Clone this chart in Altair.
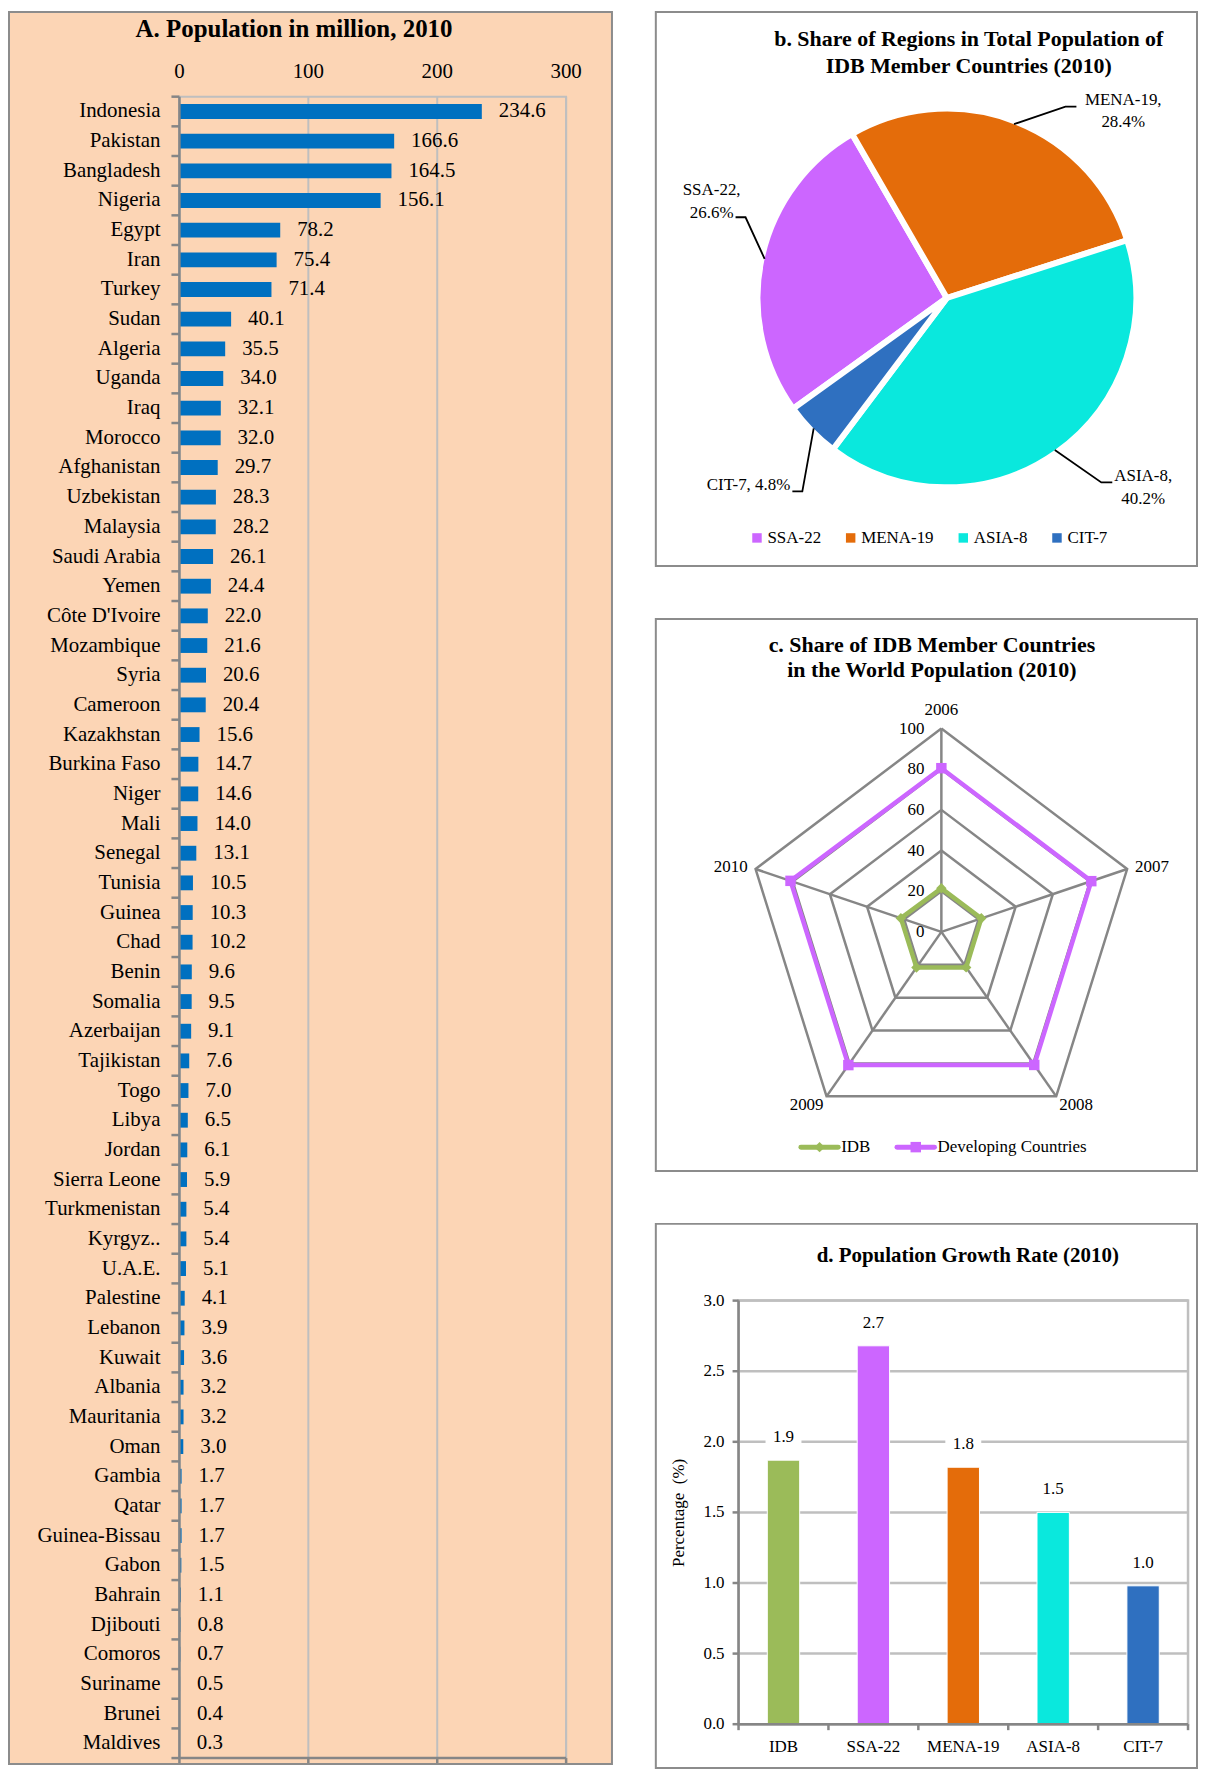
import math
import altair as alt
import pandas as pd

FONT = "Liberation Serif"
GRID = "#BFBFBF"
AXIS = "#868686"
FRAME = "#8C8C8C"

# ---------------- data ----------------
countries = ["Indonesia", "Pakistan", "Bangladesh", "Nigeria", "Egypt", "Iran", "Turkey", "Sudan",
             "Algeria", "Uganda", "Iraq", "Morocco", "Afghanistan", "Uzbekistan", "Malaysia",
             "Saudi Arabia", "Yemen", "Côte D'Ivoire", "Mozambique", "Syria", "Cameroon",
             "Kazakhstan", "Burkina Faso", "Niger", "Mali", "Senegal", "Tunisia", "Guinea", "Chad",
             "Benin", "Somalia", "Azerbaijan", "Tajikistan", "Togo", "Libya", "Jordan",
             "Sierra Leone", "Turkmenistan", "Kyrgyz..", "U.A.E.", "Palestine", "Lebanon", "Kuwait",
             "Albania", "Mauritania", "Oman", "Gambia", "Qatar", "Guinea-Bissau", "Gabon", "Bahrain",
             "Djibouti", "Comoros", "Suriname", "Brunei", "Maldives"]
population = [234.6, 166.6, 164.5, 156.1, 78.2, 75.4, 71.4, 40.1, 35.5, 34.0, 32.1, 32.0, 29.7,
              28.3, 28.2, 26.1, 24.4, 22.0, 21.6, 20.6, 20.4, 15.6, 14.7, 14.6, 14.0, 13.1, 10.5,
              10.3, 10.2, 9.6, 9.5, 9.1, 7.6, 7.0, 6.5, 6.1, 5.9, 5.4, 5.4, 5.1, 4.1, 3.9, 3.6, 3.2,
              3.2, 3.0, 1.7, 1.7, 1.7, 1.5, 1.1, 0.8, 0.7, 0.5, 0.4, 0.3]
pop_ticks = [0, 100, 200, 300]

regions = ["SSA-22", "MENA-19", "ASIA-8", "CIT-7"]
region_share = [26.6, 28.4, 40.2, 4.8]
region_colors = ["#CC66FF", "#E46C0A", "#0AE8DD", "#2F70C0"]
pie_sequence = ["MENA-19", "ASIA-8", "CIT-7", "SSA-22"]

years = ["2006", "2007", "2008", "2009", "2010"]
series_names = ["IDB", "Developing Countries"]
idb_world_share = [21.4, 21.5, 21.6, 21.7, 21.8]
developing_world_share = [80.5, 80.7, 80.9, 81.0, 81.2]
radar_levels = [0, 20, 40, 60, 80, 100]
series_colors = ["#9BBB59", "#CC66FF"]

growth_groups = ["IDB", "SSA-22", "MENA-19", "ASIA-8", "CIT-7"]
growth_rate = [1.87, 2.68, 1.82, 1.50, 0.98]
growth_colors = ["#9BBB59", "#CC66FF", "#E46C0A", "#0AE8DD", "#2F70C0"]
growth_ticks = [0.0, 0.5, 1.0, 1.5, 2.0, 2.5, 3.0]


def label(text, x, y, size, bold=False, align="center", baseline="middle", angle=None,
          line_height=None, color="black"):
    """Single text; for multi-line text, y is the first line's position."""
    props = dict(font=FONT, fontSize=size, align=align, baseline=baseline, color=color,
                 lineBreak="\n")
    if bold:
        props["fontWeight"] = "bold"
    if angle is not None:
        props["angle"] = angle
    if line_height:
        props["lineHeight"] = line_height
    return alt.Chart(pd.DataFrame({"t": [text]})).mark_text(**props).encode(
        text="t:N", x=alt.value(x), y=alt.value(y))


# ---------------- Panel A ----------------
A_W, A_H = 605, 1758
AX = [171, 559]
AY = [85, 1752]
dfA = pd.DataFrame({"country": countries, "pop": population})
dfTickA = pd.DataFrame({"t": pop_ticks})
dfFrameA = pd.DataFrame({"lo": [pop_ticks[0]], "hi": [pop_ticks[-1]]})
dfBoundA = pd.DataFrame({"k": list(range(len(countries) + 1))})

xA = alt.Scale(domain=[pop_ticks[0], pop_ticks[-1]], range=AX)
yA = alt.Scale(domain=countries, range=AY, paddingInner=0.5, paddingOuter=0.25)
YA = alt.Y("country:N", scale=yA, axis=None, sort=None)

a_frame = alt.Chart(dfFrameA).mark_rect(fillOpacity=0, stroke=GRID, strokeWidth=2).encode(
    x=alt.X("lo:Q", scale=xA, axis=None), x2="hi:Q", y=alt.value(AY[0]), y2=alt.value(AY[1]))
a_grid = alt.Chart(dfTickA).mark_rule(color=GRID, strokeWidth=2).encode(
    x=alt.X("t:Q", scale=xA, axis=None), y=alt.value(AY[0]), y2=alt.value(AY[1]))
a_bars = alt.Chart(dfA).mark_bar(color="#0070C0").encode(
    x=alt.X("pop:Q", scale=xA, axis=None), y=YA)
a_left = alt.Chart(dfFrameA).mark_rule(color=AXIS, strokeWidth=2.5).encode(
    x=alt.X("lo:Q", scale=xA, axis=None), y=alt.value(AY[0]), y2=alt.value(AY[1]))
a_bottom = alt.Chart(dfFrameA).mark_rule(color=AXIS, strokeWidth=2.5).encode(
    x=alt.X("lo:Q", scale=xA, axis=None), x2="hi:Q", y=alt.value(AY[1]))
a_bticks = alt.Chart(dfTickA).mark_rule(color=AXIS, strokeWidth=2.5).encode(
    x=alt.X("t:Q", scale=xA, axis=None), y=alt.value(AY[1]), y2=alt.value(AY[1] + 5))
a_lticks = alt.Chart(dfBoundA).mark_rule(color=AXIS, strokeWidth=2.5).encode(
    y=alt.Y("k:Q", scale=alt.Scale(domain=[0, len(countries)], range=AY), axis=None),
    x=alt.value(AX[0] - 8), x2=alt.value(AX[0]))
a_names = alt.Chart(dfA).mark_text(font=FONT, fontSize=21, align="right", baseline="middle",
                                   color="black").encode(
    x=alt.value(152), y=YA, text="country:N")
a_vals = alt.Chart(dfA).mark_text(font=FONT, fontSize=21, align="left", baseline="middle",
                                  dx=17, color="black").encode(
    x=alt.X("pop:Q", scale=xA, axis=None), y=YA, text=alt.Text("pop:Q", format=".1f"))
a_tlabels = alt.Chart(dfTickA).mark_text(font=FONT, fontSize=21, align="center",
                                         baseline="middle", color="black").encode(
    x=alt.X("t:Q", scale=xA, axis=None), y=alt.value(60), text=alt.Text("t:Q", format="d"))
a_title = label("A. Population in million, 2010", 286, 17, 25, bold=True)

panelA = alt.layer(a_frame, a_grid, a_bars, a_left, a_bottom, a_bticks, a_lticks, a_names,
                   a_vals, a_tlabels, a_title).resolve_scale(y="independent").properties(
    width=A_W, height=A_H,
    view=alt.ViewBackground(fill="#FCD5B5", stroke=FRAME, strokeWidth=2))

# ---------------- Panel B (pie) ----------------
B_W, B_H = 543, 556
PIE_CX, PIE_CY, PIE_R = 292, 287, 190
START_DEG = 330
dfB = pd.DataFrame({"region": regions, "share": region_share,
                    "seq": [pie_sequence.index(r) for r in regions]})
start = math.radians(START_DEG)
b_pie = alt.Chart(dfB).mark_arc(outerRadius=PIE_R, stroke="white", strokeWidth=6).encode(
    theta=alt.Theta("share:Q", stack=True, scale=alt.Scale(range=[start, start + 2 * math.pi])),
    color=alt.Color("region:N", scale=alt.Scale(domain=regions, range=region_colors),
                    legend=alt.Legend(orient="none", legendX=93, legendY=519,
                                      direction="horizontal", title=None, symbolType="square",
                                      symbolSize=90, symbolStrokeWidth=0, labelFont=FONT,
                                      labelFontSize=17, labelColor="black", columnPadding=21,
                                      labelOffset=2)),
    order=alt.Order("seq:Q"),
    x=alt.value(PIE_CX), y=alt.value(PIE_CY))

share_of = dict(zip(regions, region_share))
pie_label_layout = {
    "MENA-19": dict(x=469, y=88, align="center", two=True, lead=[(422, 95), (411, 95)]),
    "SSA-22": dict(x=56, y=179, align="center", two=True, lead=[(80, 206), (90, 206)]),
    "CIT-7": dict(x=135, y=475, align="right", two=False, lead=[(137, 481), (147, 481)]),
    "ASIA-8": dict(x=489, y=466, align="center", two=True, lead=[(458, 472), (447, 472)]),
}
lead_rows = []
cum = 0.0
total = sum(region_share)
for r in pie_sequence:
    s = share_of[r]
    mid = math.radians(START_DEG + (cum + s / 2) / total * 360)
    cum += s
    pts = pie_label_layout[r]["lead"] + [(PIE_CX + (PIE_R - 3) * math.sin(mid),
                                          PIE_CY - (PIE_R - 3) * math.cos(mid))]
    for k, (px, py) in enumerate(pts):
        lead_rows.append({"region": r, "step": k, "px": px, "py": py})
b_leads = alt.Chart(pd.DataFrame(lead_rows)).mark_line(color="black", strokeWidth=1.8).encode(
    x=alt.X("px:Q", scale=None), y=alt.Y("py:Q", scale=None), detail="region:N",
    order="step:Q")
b_labels = []
for r in regions:
    lay = pie_label_layout[r]
    sep = ",\n" if lay["two"] else ", "
    b_labels.append(label(f"{r}{sep}{share_of[r]:.1f}%", lay["x"], lay["y"], 17,
                          align=lay["align"], line_height=22.5))
b_title = label("b. Share of Regions in Total Population of\nIDB Member Countries (2010)",
                314, 27, 22, bold=True, line_height=27)
panelB = alt.layer(b_pie, b_leads, *b_labels, b_title).properties(
    width=B_W, height=B_H, view=alt.ViewBackground(fill="white", stroke=FRAME, strokeWidth=2))

# ---------------- Panel C (radar) ----------------
C_W, C_H = 543, 554
RCX, RCY, RRX, RRY = 286.5, 314, 196, 204
n = len(years)
xC = alt.Scale(domain=[-100, 100], range=[RCX - RRX, RCX + RRX])
yC = alt.Scale(domain=[-100, 100], range=[RCY + RRY, RCY - RRY])

grid_rows = [{"level": L, "i": i} for L in radar_levels[1:] for i in range(n + 1)]
c_grid = alt.Chart(pd.DataFrame(grid_rows)).transform_calculate(
    gx=f"datum.level * sin(2 * PI * datum.i / {n})",
    gy=f"datum.level * cos(2 * PI * datum.i / {n})").mark_line(
    color=AXIS, strokeWidth=2.5).encode(
    x=alt.X("gx:Q", scale=xC, axis=None), y=alt.Y("gy:Q", scale=yC, axis=None),
    detail="level:N", order="i:Q")

dfYears = pd.DataFrame({"year": years, "i": list(range(n)), "top": [radar_levels[-1]] * n})
spoke_base = alt.Chart(dfYears).transform_calculate(
    sx=f"datum.top * sin(2 * PI * datum.i / {n})",
    sy=f"datum.top * cos(2 * PI * datum.i / {n})", z="0")
c_spokes = spoke_base.mark_rule(color=AXIS, strokeWidth=2.5).encode(
    x=alt.X("z:Q", scale=xC, axis=None), y=alt.Y("z:Q", scale=yC, axis=None),
    x2="sx:Q", y2="sy:Q")

ser_rows = []
for name, vals in zip(series_names, [idb_world_share, developing_world_share]):
    for i in range(n + 1):
        ser_rows.append({"series": name, "i": i, "v": vals[i % n]})
ser_base = alt.Chart(pd.DataFrame(ser_rows)).transform_calculate(
    px=f"datum.v * sin(2 * PI * datum.i / {n})",
    py=f"datum.v * cos(2 * PI * datum.i / {n})")
ser_color = alt.Color("series:N", scale=alt.Scale(domain=series_names, range=series_colors),
                      legend=None)
c_lines = ser_base.mark_line(strokeWidth=4.5).encode(
    x=alt.X("px:Q", scale=xC, axis=None), y=alt.Y("py:Q", scale=yC, axis=None),
    color=ser_color, detail="series:N", order="i:Q")
c_points = ser_base.transform_filter(f"datum.i < {n}").mark_point(
    filled=True, size=110, opacity=1).encode(
    x=alt.X("px:Q", scale=xC, axis=None), y=alt.Y("py:Q", scale=yC, axis=None),
    color=ser_color,
    shape=alt.Shape("series:N", scale=alt.Scale(domain=series_names,
                                                 range=["diamond", "square"]), legend=None))

year_label_style = {
    "2006": dict(align="center", baseline="middle", dx=0, dy=-19),
    "2007": dict(align="left", baseline="middle", dx=8, dy=-2),
    "2008": dict(align="left", baseline="middle", dx=3, dy=9),
    "2009": dict(align="right", baseline="middle", dx=-3, dy=9),
    "2010": dict(align="right", baseline="middle", dx=-8, dy=-2),
}
c_years = []
for y in years:
    st = year_label_style[y]
    c_years.append(spoke_base.transform_filter(f"datum.year == '{y}'").mark_text(
        font=FONT, fontSize=17, color="black", **st).encode(
        x=alt.X("sx:Q", scale=xC, axis=None), y=alt.Y("sy:Q", scale=yC, axis=None),
        text="year:N"))

c_ticks = alt.Chart(pd.DataFrame({"level": radar_levels})).transform_calculate(z="0").mark_text(
    font=FONT, fontSize=17, align="right", baseline="middle", dx=-17, color="black").encode(
    x=alt.X("z:Q", scale=xC, axis=None), y=alt.Y("level:Q", scale=yC, axis=None),
    text=alt.Text("level:Q", format="d"))

legend_layout_c = [(145.6, 183.0, "diamond"), (242.0, 279.6, "square")]
LEG_CY = 530
c_legend = []
for name, col, (xa, xb, shp) in zip(series_names, series_colors, legend_layout_c):
    one = alt.Chart(pd.DataFrame({"t": [name]}))
    c_legend.append(one.mark_rule(color=col, strokeWidth=5, strokeCap="round").encode(
        x=alt.value(xa), x2=alt.value(xb), y=alt.value(LEG_CY)))
    c_legend.append(one.mark_point(shape=shp, filled=True, size=110, color=col,
                                   opacity=1).encode(
        x=alt.value((xa + xb) / 2), y=alt.value(LEG_CY)))
    c_legend.append(one.mark_text(font=FONT, fontSize=17, align="left", baseline="middle",
                                  color="black").encode(
        text="t:N", x=alt.value(xb + 3), y=alt.value(LEG_CY)))

c_title = label("c. Share of IDB Member Countries\nin the World Population (2010)",
                277, 26.5, 22, bold=True, line_height=25)
panelC = alt.layer(c_grid, c_spokes, c_lines, c_points, *c_years, c_ticks, *c_legend,
                   c_title).properties(
    width=C_W, height=C_H, view=alt.ViewBackground(fill="white", stroke=FRAME, strokeWidth=2))

# ---------------- Panel D (bars) ----------------
D_W, D_H = 543, 546
DX = [83, 534]
DY = [502, 77]
VAL_DY = -23
dfD = pd.DataFrame({"group": growth_groups, "rate": growth_rate})
dfTickD = pd.DataFrame({"t": growth_ticks})
dfFrameD = pd.DataFrame({"lo": [growth_ticks[0]], "hi": [growth_ticks[-1]]})
dfBoundD = pd.DataFrame({"k": list(range(len(growth_groups) + 1))})
xD = alt.Scale(domain=growth_groups, range=DX, paddingInner=0.64, paddingOuter=0.32)
yD = alt.Scale(domain=[growth_ticks[0], growth_ticks[-1]], range=DY)
XD = alt.X("group:N", scale=xD, axis=None, sort=None)

d_frame = alt.Chart(dfFrameD).mark_rect(fillOpacity=0, stroke=GRID, strokeWidth=2.5).encode(
    y=alt.Y("lo:Q", scale=yD, axis=None), y2="hi:Q", x=alt.value(DX[0]), x2=alt.value(DX[1]))
d_grid = alt.Chart(dfTickD).mark_rule(color=GRID, strokeWidth=2.5).encode(
    y=alt.Y("t:Q", scale=yD, axis=None), x=alt.value(DX[0]), x2=alt.value(DX[1]))
d_bars = alt.Chart(dfD).mark_bar(stroke="white", strokeWidth=1).encode(
    x=XD, y=alt.Y("rate:Q", scale=yD, axis=None),
    color=alt.Color("group:N", scale=alt.Scale(domain=growth_groups, range=growth_colors),
                    legend=None))
d_left = alt.Chart(dfFrameD).mark_rule(color=AXIS, strokeWidth=2.5).encode(
    y=alt.Y("lo:Q", scale=yD, axis=None), y2="hi:Q", x=alt.value(DX[0]))
d_bottom = alt.Chart(dfFrameD).mark_rule(color=AXIS, strokeWidth=2.5).encode(
    y=alt.Y("lo:Q", scale=yD, axis=None), x=alt.value(DX[0]), x2=alt.value(DX[1]))
d_lticks = alt.Chart(dfTickD).mark_rule(color=AXIS, strokeWidth=2.5).encode(
    y=alt.Y("t:Q", scale=yD, axis=None), x=alt.value(DX[0] - 6), x2=alt.value(DX[0]))
d_bticks = alt.Chart(dfBoundD).mark_rule(color=AXIS, strokeWidth=2.5).encode(
    x=alt.X("k:Q", scale=alt.Scale(domain=[0, len(growth_groups)], range=DX), axis=None),
    y=alt.value(DY[0]), y2=alt.value(DY[0] + 6))
d_ylabels = alt.Chart(dfTickD).mark_text(font=FONT, fontSize=17, align="right",
                                         baseline="middle", color="black").encode(
    y=alt.Y("t:Q", scale=yD, axis=None), x=alt.value(69), text=alt.Text("t:Q", format=".1f"))
d_xlabels = alt.Chart(dfD).mark_text(font=FONT, fontSize=17, align="center", baseline="middle",
                                     color="black").encode(
    x=XD, y=alt.value(525), text="group:N")
d_valbg = alt.Chart(dfD).mark_point(shape="M-1,-0.55H1V0.55H-1Z", filled=True, color="white",
                                    opacity=1, size=1300, yOffset=VAL_DY).encode(
    x=XD, y=alt.Y("rate:Q", scale=yD, axis=None))
d_vals = alt.Chart(dfD).mark_text(font=FONT, fontSize=17, align="center", baseline="middle",
                                  dy=VAL_DY, color="black").encode(
    x=XD, y=alt.Y("rate:Q", scale=yD, axis=None), text=alt.Text("rate:Q", format=".1f"))
d_ytitle = label("Percentage\u00a0\u00a0(%)", 23, 290, 17, angle=270)
d_title = label("d. Population Growth Rate (2010)", 313, 32, 21, bold=True)
panelD = alt.layer(d_frame, d_grid, d_bars, d_left, d_bottom, d_lticks, d_bticks, d_ylabels,
                   d_xlabels, d_valbg, d_vals, d_ytitle, d_title).resolve_scale(
    x="independent").properties(
    width=D_W, height=D_H, view=alt.ViewBackground(fill="white", stroke=FRAME, strokeWidth=2))

right = alt.vconcat(panelB, panelC, panelD, spacing=51).resolve_scale(
    color="independent", shape="independent")
chart = alt.hconcat(panelA, right, spacing=42).resolve_scale(
    color="independent", shape="independent").properties(padding=0)
chart.save("out.html", embed_options={"renderer": "svg", "actions": False})
